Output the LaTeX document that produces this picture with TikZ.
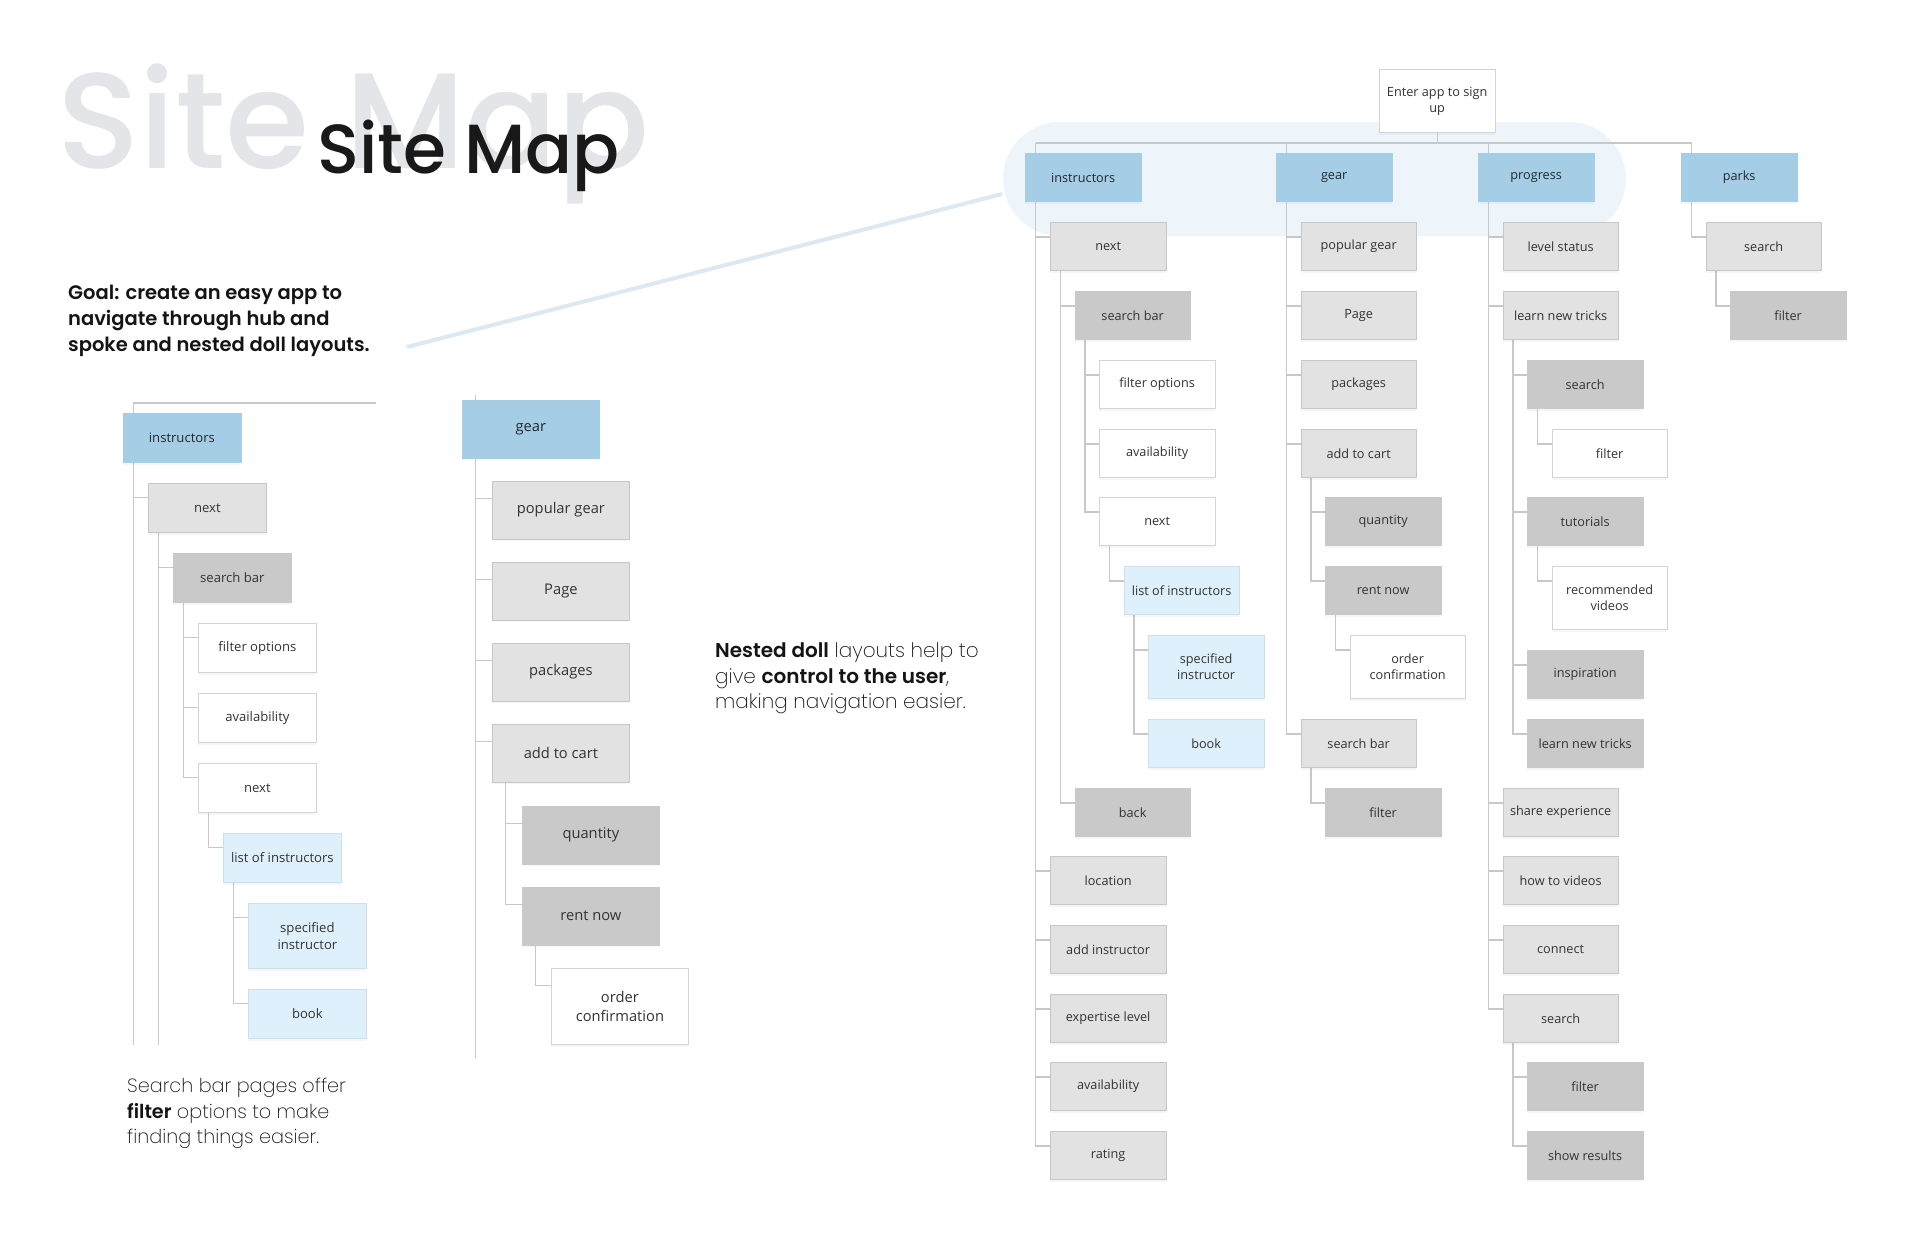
\documentclass[tikz,border=0pt]{standalone}
\usepackage{fontspec}
\setmainfont{Open Sans}
\newfontfamily\popm{Poppins Medium}
\newfontfamily\popl{Poppins ExtraLight}
\newfontfamily\pops{Poppins SemiBold}
\usetikzlibrary{shadows,backgrounds}
\definecolor{cblue}{HTML}{A6CDE6}
\definecolor{clblue}{HTML}{DDF0FB}
\definecolor{clgray}{HTML}{E2E2E2}
\definecolor{cdgray}{HTML}{C9C9C9}
\definecolor{cline}{HTML}{C8C8C8}
\definecolor{ctxt}{HTML}{333333}
\definecolor{cfaded}{HTML}{E3E5E8}
\definecolor{chl}{HTML}{EEF5FA}
\definecolor{cbeam}{HTML}{DCE9F2}
\pgfdeclarelayer{bgzero}
\pgfsetlayers{bgzero,background,main}
\newcommand{\edgeR}[2]{\draw[conn] ([xshift=10.5pt]#1.south west) |- ([yshift=-15pt]#2.north west);}
\newcommand{\edgeL}[2]{\draw[conn] ([xshift=10.8pt]#1.south west) |- ([yshift=-14.7pt]#2.north west);}
\newcommand{\edgeG}[2]{\draw[conn] ([xshift=13.5pt]#1.south west) |- ([yshift=-17.6pt]#2.north west);}
\begin{document}
\begin{tikzpicture}[x=1pt,y=-1pt,
  bx/.style={anchor=north west, inner sep=0pt, align=center, text=ctxt, line width=0.8pt,
    drop shadow={shadow xshift=0pt, shadow yshift=-2.5pt, opacity=0.07}},
  rw/.style={minimum width=115.5pt, minimum height=48pt, font=\fontsize{12.7}{16}\selectfont},
  lw/.style={minimum width=118pt, minimum height=49pt, font=\fontsize{13.1}{17}\selectfont},
  gw/.style={minimum width=137pt, minimum height=57.5pt, font=\fontsize{14.7}{19}\selectfont},
  blue/.style={fill=cblue, draw=cblue, text=black!80!cblue},
  lb/.style={fill=clblue, draw=clblue!85!gray},
  lg/.style={fill=clgray, draw=clgray!88!black},
  dg/.style={fill=cdgray, draw=cdgray},
  wh/.style={fill=white, draw=black!17},
  conn/.style={draw=cline, line width=1.2pt},
  para/.style={anchor=base west, inner sep=0pt, text=black!92, font=\popl\fontsize{20}{26}\selectfont},
  parasm/.style={para, font=\popl\fontsize{19.2}{26}\selectfont},
  goal/.style={anchor=base west, inner sep=0pt, text=black!92, font=\pops\fontsize{19.5}{26}\selectfont}
]
\useasboundingbox (0,0) rectangle (1920,1242);

% titles
\node[anchor=base west, inner sep=0pt, text=cfaded, font=\popm\fontsize{136}{136}\selectfont] (tfaded) at (57,168) {Site Map};
\node[anchor=base west, inner sep=0pt, text=black!90, font=\popm\fontsize{69.5}{70}\selectfont] (tdark) at (317,173) {Site Map};

% goal text
\node[goal] (g1) at (68,299) {Goal: create an easy app to};
\node[goal] (g2) at (68,325) {navigate through hub and};
\node[goal] (g3) at (68,351) {spoke and nested doll layouts.};

% nested doll text
\node[para] (n1) at (715,657) {{\pops Nested doll} layouts help to};
\node[para] (n2) at (715,683) {give {\pops control to the user},};
\node[para] (n3) at (715,708) {making navigation easier.};

% search bar text
\node[parasm] (s1) at (127,1092) {Search bar pages offer};
\node[parasm] (s2) at (127,1118) {{\pops filter} options to make};
\node[parasm] (s3) at (127,1143) {finding things easier.};

% ================= right tree =================
\node[bx,rw,wh,minimum height=63pt] (root) at (1379,69) {Enter app to sign\\up};
\node[bx,rw,blue] (rI) at (1025,153) {instructors};
\node[bx,rw,blue] (rG) at (1276,153) {gear};
\node[bx,rw,blue] (rP) at (1478,153) {progress};
\node[bx,rw,blue] (rK) at (1681,153) {parks};

\node[bx,rw,lg] (rI1) at (1050,222) {next};
\node[bx,rw,dg] (rI2) at (1074.5,291) {search bar};
\node[bx,rw,wh] (rI3) at (1099,360) {filter options};
\node[bx,rw,wh] (rI4) at (1099,429) {availability};
\node[bx,rw,wh] (rI5) at (1099,497) {next};
\node[bx,rw,lb] (rI6) at (1123.5,566) {list of instructors};
\node[bx,rw,lb,minimum height=63pt] (rI7) at (1148,635) {specified\\instructor};
\node[bx,rw,lb] (rI8) at (1148,719) {book};
\node[bx,rw,dg] (rI9) at (1074.5,788) {back};
\node[bx,rw,lg] (rI10) at (1050,856) {location};
\node[bx,rw,lg] (rI11) at (1050,925) {add instructor};
\node[bx,rw,lg] (rI12) at (1050,994) {expertise level};
\node[bx,rw,lg] (rI13) at (1050,1062) {availability};
\node[bx,rw,lg] (rI14) at (1050,1131) {rating};

\node[bx,rw,lg] (rG1) at (1300.5,222) {popular gear};
\node[bx,rw,lg] (rG2) at (1300.5,291) {Page};
\node[bx,rw,lg] (rG3) at (1300.5,360) {packages};
\node[bx,rw,lg] (rG4) at (1300.5,429) {add to cart};
\node[bx,rw,dg] (rG5) at (1325,497) {quantity};
\node[bx,rw,dg] (rG6) at (1325,566) {rent now};
\node[bx,rw,wh,minimum height=63pt] (rG7) at (1349.5,635) {order\\confirmation};
\node[bx,rw,lg] (rG8) at (1300.5,719) {search bar};
\node[bx,rw,dg] (rG9) at (1325,788) {filter};

\node[bx,rw,lg] (rP1) at (1502.5,222) {level status};
\node[bx,rw,lg] (rP2) at (1502.5,291) {learn new tricks};
\node[bx,rw,dg] (rP3) at (1527,360) {search};
\node[bx,rw,wh] (rP4) at (1551.5,429) {filter};
\node[bx,rw,dg] (rP5) at (1527,497) {tutorials};
\node[bx,rw,wh,minimum height=63pt] (rP6) at (1551.5,566) {recommended\\videos};
\node[bx,rw,dg] (rP7) at (1527,650) {inspiration};
\node[bx,rw,dg] (rP8) at (1527,719) {learn new tricks};
\node[bx,rw,lg] (rP9) at (1502.5,788) {share experience};
\node[bx,rw,lg] (rP10) at (1502.5,856) {how to videos};
\node[bx,rw,lg] (rP11) at (1502.5,925) {connect};
\node[bx,rw,lg] (rP12) at (1502.5,994) {search};
\node[bx,rw,dg] (rP13) at (1527,1062) {filter};
\node[bx,rw,dg] (rP14) at (1527,1131) {show results};

\node[bx,rw,lg] (rK1) at (1705.5,222) {search};
\node[bx,rw,dg] (rK2) at (1730,291) {filter};

% ================= left instructors tree =================
\node[bx,lw,blue] (lI) at (122.5,413) {instructors};
\node[bx,lw,lg] (lI1) at (148,483) {next};
\node[bx,lw,dg] (lI2) at (173,553) {search bar};
\node[bx,lw,wh] (lI3) at (198,623) {filter options};
\node[bx,lw,wh] (lI4) at (198,693) {availability};
\node[bx,lw,wh] (lI5) at (198,763) {next};
\node[bx,lw,lb] (lI6) at (223,833) {list of instructors};
\node[bx,lw,lb,minimum height=65pt] (lI7) at (248,903) {specified\\instructor};
\node[bx,lw,lb] (lI8) at (248,989) {book};

% ================= left gear tree =================
\node[bx,gw,blue] (lG) at (462,400) {gear};
\node[bx,gw,lg] (lG1) at (492,481) {popular gear};
\node[bx,gw,lg] (lG2) at (492,562) {Page};
\node[bx,gw,lg] (lG3) at (492,643) {packages};
\node[bx,gw,lg] (lG4) at (492,724) {add to cart};
\node[bx,gw,dg] (lG5) at (522,806) {quantity};
\node[bx,gw,dg] (lG6) at (522,887) {rent now};
\node[bx,gw,wh,minimum height=76pt] (lG7) at (551,968) {order\\confirmation};

% ================= background, highlight and beam =================
\begin{pgfonlayer}{bgzero}
  \fill[white] (0,0) rectangle (1920,1242);
  \fill[chl, rounded corners=57pt] (1003,122) rectangle (1626,236);
  \coordinate (beamA) at (407,347);
  \coordinate (beamB) at (1002,194);
  \draw[cbeam, line width=4pt] (beamA) -- (beamB);
\end{pgfonlayer}

% ================= connectors =================
\begin{pgfonlayer}{background}
  % right tree bus
  \draw[conn] (root.south) -- ++(0,11);
  \draw[conn] ([xshift=10.5pt,yshift=10pt]rI.north west) -- ([xshift=10.5pt,yshift=10pt]rK.north west);
  \foreach \n in {rI,rG,rP,rK} {\draw[conn] ([xshift=10.5pt]\n.north west) -- ++(0,-10);}
  % instructors
  \foreach \c in {rI1,rI10,rI11,rI12,rI13,rI14} {\edgeR{rI}{\c}}
  \edgeR{rI1}{rI2} \edgeR{rI1}{rI9}
  \edgeR{rI2}{rI3} \edgeR{rI2}{rI4} \edgeR{rI2}{rI5}
  \edgeR{rI5}{rI6}
  \edgeR{rI6}{rI7} \edgeR{rI6}{rI8}
  % gear
  \foreach \c in {rG1,rG2,rG3,rG4,rG8} {\edgeR{rG}{\c}}
  \edgeR{rG4}{rG5} \edgeR{rG4}{rG6}
  \edgeR{rG6}{rG7}
  \edgeR{rG8}{rG9}
  % progress
  \foreach \c in {rP1,rP2,rP9,rP10,rP11,rP12} {\edgeR{rP}{\c}}
  \foreach \c in {rP3,rP5,rP7,rP8} {\edgeR{rP2}{\c}}
  \edgeR{rP3}{rP4}
  \edgeR{rP5}{rP6}
  \edgeR{rP12}{rP13} \edgeR{rP12}{rP14}
  % parks
  \edgeR{rK}{rK1} \edgeR{rK1}{rK2}

  % left instructors tree
  \coordinate (ltop) at (376,403);
  \coordinate (lIend) at (133.3,1045);
  \coordinate (lNend) at (158.8,1045);
  \draw[conn] (ltop) -| (lIend);
  \draw[conn] ([xshift=10.8pt]lI1.south west) -- (lNend);
  \edgeL{lI}{lI1}
  \edgeL{lI1}{lI2}
  \edgeL{lI2}{lI3} \edgeL{lI2}{lI4} \edgeL{lI2}{lI5}
  \edgeL{lI5}{lI6}
  \edgeL{lI6}{lI7} \edgeL{lI6}{lI8}

  % left gear tree
  \coordinate (gtop) at (475.5,395);
  \coordinate (gend) at (475.5,1058);
  \draw[conn] (gtop) -- (gend);
  \foreach \c in {lG1,lG2,lG3,lG4} {\edgeG{lG}{\c}}
  \edgeG{lG4}{lG5} \edgeG{lG4}{lG6}
  \edgeG{lG6}{lG7}
\end{pgfonlayer}
\end{tikzpicture}
\end{document}
